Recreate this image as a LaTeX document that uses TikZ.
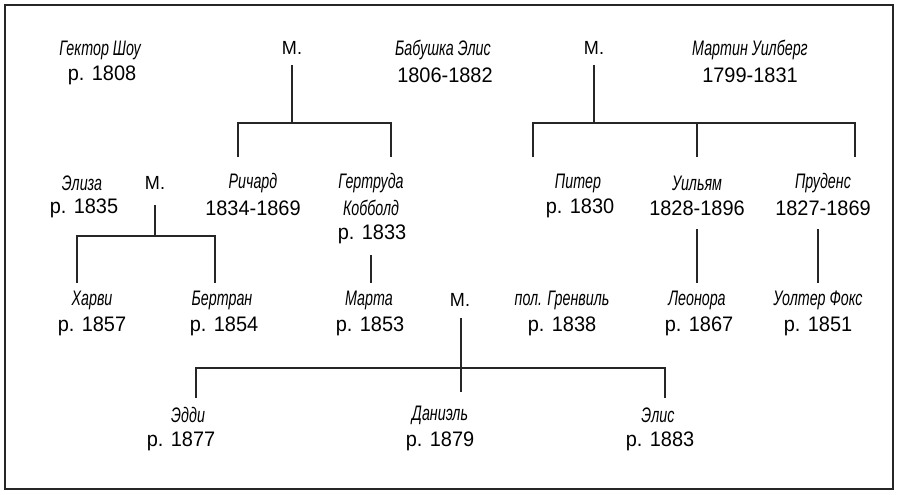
\documentclass[tikz,border=0pt]{standalone}
\usepackage{fontspec}
\setmainfont{Liberation Sans}
\newfontfamily\nmfont{Liberation Sans}[FakeStretch=0.68]
\newfontfamily\yrfont{Liberation Sans}[FakeStretch=0.95]
\begin{document}
\begin{tikzpicture}[x=1pt,y=-1pt,
  nm/.style={inner sep=0pt,font=\nmfont\itshape\fontsize{21}{22}\selectfont},
  yr/.style={inner sep=0pt,font=\yrfont\fontsize{21}{24}\selectfont},
  mm/.style={inner sep=0pt,font=\yrfont\fontsize{19}{20}\selectfont},
  ln/.style={line width=1.3pt,draw=black!85},
  frame/.style={line width=2pt,draw=black!85}]
\useasboundingbox (0,0) rectangle (900,495);
\draw[frame] (5,5) rectangle (893,489);
% row 1
\node[nm] (hector) at (100,50) {Гектор Шоу};
\node[yr] (hectory) at (102,75) {р. 1808};
\node[mm] (m1) at (292,48) {М.};
\node[nm] (alice) at (443,50) {Бабушка Элис};
\node[yr] (alicey) at (445,75) {1806-1882};
\node[mm] (m2) at (594,48) {М.};
\node[nm] (martin) at (750,50) {Мартин Уилберг};
\node[yr] (martiny) at (750,75) {1799-1831};
% row 2
\node[nm] (eliza) at (82,183) {Элиза};
\node[yr] (elizay) at (84,208) {р. 1835};
\node[mm] (m3) at (155,183) {М.};
\node[nm] (richard) at (253,183) {Ричард};
\node[yr] (richardy) at (253,208) {1834-1869};
\node[nm] (gert) at (371,183) {Гертруда};
\node[nm] (gert2) at (371,208) {Кобболд};
\node[yr] (gerty) at (372,234) {р. 1833};
\node[nm] (peter) at (578,183) {Питер};
\node[yr] (petery) at (580,208) {р. 1830};
\node[nm] (william) at (697,183) {Уильям};
\node[yr] (williamy) at (697,208) {1828-1896};
\node[nm] (prud) at (823,183) {Пруденс};
\node[yr] (prudy) at (823,208) {1827-1869};
% row 3
\node[nm] (harvey) at (92,300) {Харви};
\node[yr] (harveyy) at (92,326) {р. 1857};
\node[nm] (bertran) at (222,300) {Бертран};
\node[yr] (bertrany) at (224,326) {р. 1854};
\node[nm] (marta) at (369,300) {Марта};
\node[yr] (martay) at (370,326) {р. 1853};
\node[mm] (m4) at (460,300) {М.};
\node[nm] (gren) at (562,300) {пол. Гренвиль};
\node[yr] (greny) at (562,326) {р. 1838};
\node[nm] (leonora) at (697,300) {Леонора};
\node[yr] (leonoray) at (699,326) {р. 1867};
\node[nm] (walter) at (818,300) {Уолтер Фокс};
\node[yr] (waltery) at (818,326) {р. 1851};
% row 4
\node[nm] (eddie) at (188,415) {Эдди};
\node[yr] (eddiey) at (181,441) {р. 1877};
\node[nm] (daniel) at (440,415) {Даниэль};
\node[yr] (daniely) at (440,441) {р. 1879};
\node[nm] (elis) at (658,415) {Элис};
\node[yr] (elisy) at (660,441) {р. 1883};
% coordinates
\coordinate (a1) at (292,65);  \coordinate (a2) at (292,123);
\coordinate (a3) at (238,123); \coordinate (a4) at (391,123);
\coordinate (a5) at (238,157); \coordinate (a6) at (391,157);
\coordinate (b1) at (594,65);  \coordinate (b2) at (594,123);
\coordinate (b3) at (533,123); \coordinate (b4) at (855,123);
\coordinate (b5) at (533,157); \coordinate (b6) at (697,157);
\coordinate (b7) at (855,157); \coordinate (b8) at (697,123);
\coordinate (c1) at (155,205); \coordinate (c2) at (155,236);
\coordinate (c3) at (77,236);  \coordinate (c4) at (215,236);
\coordinate (c5) at (77,283);  \coordinate (c6) at (215,283);
\coordinate (d1) at (371,255); \coordinate (d2) at (371,283);
\coordinate (e1) at (697,229); \coordinate (e2) at (697,283);
\coordinate (f1) at (818,229); \coordinate (f2) at (818,283);
\coordinate (g1) at (461,318); \coordinate (g2) at (461,392);
\coordinate (g3) at (196,368); \coordinate (g4) at (665,368);
\coordinate (g5) at (196,398); \coordinate (g6) at (665,398);
% connectors
\draw[ln] (a1) -- (a2);
\draw[ln] (a5) -- (a3) -- (a4) -- (a6);
\draw[ln] (b1) -- (b2);
\draw[ln] (b5) -- (b3) -- (b4) -- (b7);
\draw[ln] (b8) -- (b6);
\draw[ln] (c1) -- (c2);
\draw[ln] (c5) -- (c3) -- (c4) -- (c6);
\draw[ln] (d1) -- (d2);
\draw[ln] (e1) -- (e2);
\draw[ln,line width=1.8pt] (f1) -- (f2);
\draw[ln] (g1) -- (g2);
\draw[ln] (g5) -- (g3) -- (g4) -- (g6);
\end{tikzpicture}
\end{document}
